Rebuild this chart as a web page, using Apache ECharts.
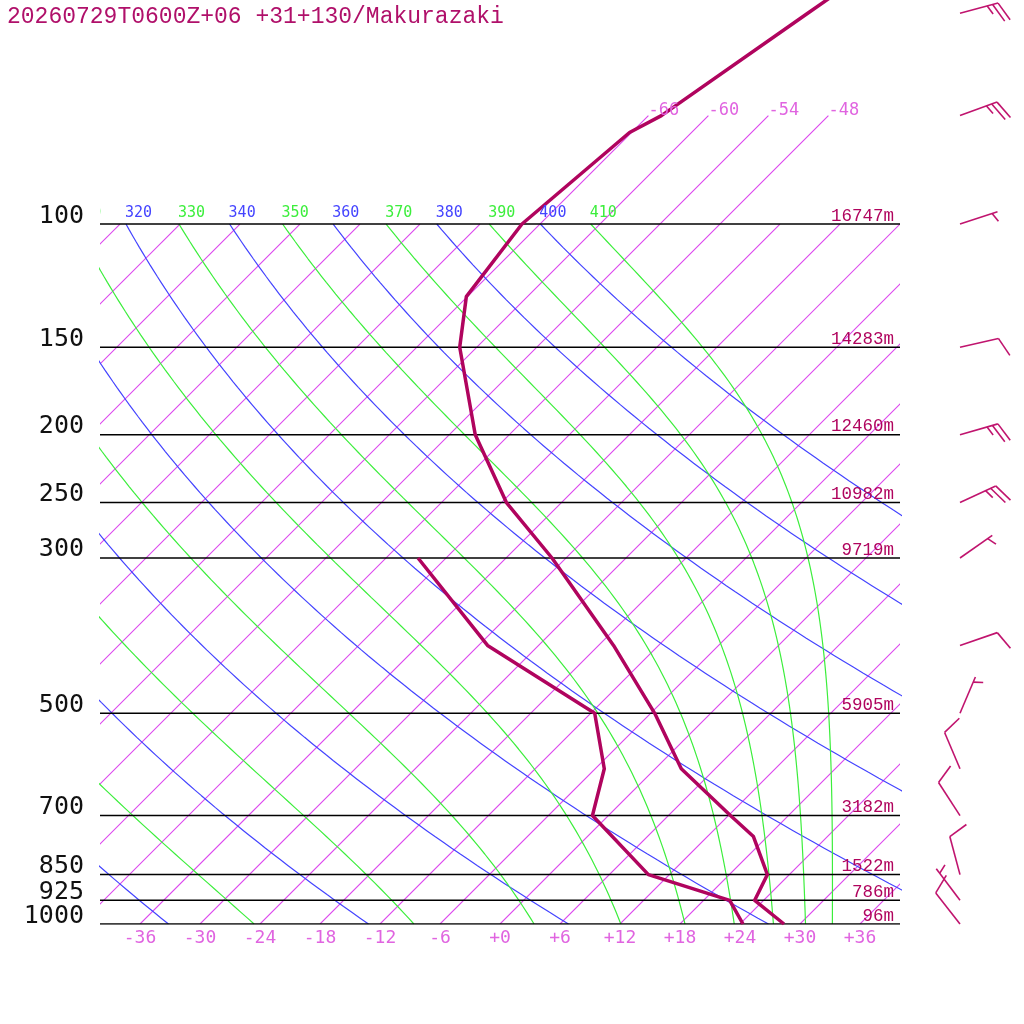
<!DOCTYPE html>
<html><head><meta charset="utf-8">
<script src="https://cdn.jsdelivr.net/npm/echarts@6/dist/echarts.min.js"></script>
<style>html,body{margin:0;padding:0;background:#fff}#c{width:1024px;height:1024px}</style>
</head><body><div id="c"></div>
<script>
// ---------------- data ----------------
const TITLE = '20260729T0600Z+06 +31+130/Makurazaki';
const levels   = [1000, 925, 850, 750, 700, 600, 500, 400, 300, 250, 200, 150, 127, 100, 74, 70, 50, 30];
const temp     = [28.4, 23.1, 21.8, 16.6, 12.2, 2.6, -5.6, -16.5, -31.4, -41.5, -51.4, -61.7, -66.1, -67.8, -66.2, -64.7, -60.3, -53.6];
const dewLevels = [1000, 925, 850, 700, 600, 500, 400, 300];
const dewpoint  = [24.3, 20.6, 9.9, -1.6, -5.1, -11.6, -29.1, -44.8];
const isobars  = [1000, 925, 850, 700, 500, 300, 250, 200, 150, 100];
const heights  = [96, 786, 1522, 3182, 5905, 9719, 10982, 12460, 14283, 16747];
const windLevels = [1000, 925, 850, 700, 600, 500, 400, 300, 250, 200, 150, 100, 70, 50];
const windDir    = [322, 323, 345, 327, 337, 23, 71, 55, 65, 74, 77, 72, 70, 75];
const windSpd    = [10, 5, 10, 10, 10, 5, 10, 5, 25, 25, 10, 5, 25, 25];
const tempTicks  = [-36, -30, -24, -18, -12, -6, 0, 6, 12, 18, 24, 30, 36];
const isotherms  = [-114, -108, -102, -96, -90, -84, -78, -72, -66, -60, -54, -48, -42, -36, -30, -24, -18, -12, -6, 0, 6, 12, 18, 24, 30, 36];
const labelledIsotherms = [-66, -60, -54, -48];
const dryThetas   = [240, 260, 280, 300, 320, 340, 360, 380, 400];
const moistThetaE = [250, 270, 290, 310, 330, 350, 370, 390, 410];

// ---------------- diagram geometry ----------------
const SKEW = 30.4;          // x shift (°C) per unit ln(1000/p): 45° skew
const P_TOP = 47.86, P_BOT = 1000;
const BARB_X = 46;          // column of wind barbs (skewed-x units)
const C_SND = '#b0045e', C_ISO = '#dc48ee', C_ISO_T = '#e064e0',
      C_DRY = '#4444ff', C_MOIST = '#3cee3c', C_BARB = '#c0146e';

function skewX(T, p) { return T + SKEW * Math.log(1000 / p); }
function pLevels() { const a = []; for (let i = 0; i <= 120; i++) a.push(1000 * Math.pow(10, -i / 120)); return a; }

function dryCurve(theta) {
  return pLevels().map(p => [skewX(theta * Math.pow(p / 1000, 0.2857) - 273.15, p), p]);
}
// saturated equivalent potential temperature (Bolton 1980)
function thetaE(Tk, p) {
  const Tc = Tk - 273.15, e = 6.112 * Math.exp(17.67 * Tc / (Tc + 243.5));
  const r = 1000 * 0.622 * e / (p - e);
  return Tk * Math.pow(1000 / p, 0.2854 * (1 - 0.28e-3 * r)) *
         Math.exp((3.376 / Tk - 0.00254) * r * (1 + 0.81e-3 * r));
}
function moistCurve(the) {
  return pLevels().map(p => {
    let lo = 150, hi = 330;
    for (let k = 0; k < 50; k++) { const m = (lo + hi) / 2; if (thetaE(m, p) > the) hi = m; else lo = m; }
    return [skewX((lo + hi) / 2 - 273.15, p), p];
  });
}

const series = [];
const thin = (color, data) => ({ type: 'line', symbol: 'none', silent: true, clip: true, color: color,
  lineStyle: { color: color, width: 1.2 }, z: 1, data: data });

// isotherms: straight segments drawn with a custom series
series.push({ type: 'custom', silent: true, clip: true, z: 1,
  data: isotherms.map(T => {
    const top = labelledIsotherms.includes(T) ? 70 : 100;
    return [skewX(T, 1000), 1000, skewX(T, top), top];
  }),
  renderItem: (params, api) => {
    const a = api.coord([api.value(0), api.value(1)]), b = api.coord([api.value(2), api.value(3)]);
    return { type: 'line', shape: { x1: a[0], y1: a[1], x2: b[0], y2: b[1] },
      style: { stroke: C_ISO, lineWidth: 1.1, fill: null } };
  } });
dryThetas.forEach(th => series.push(thin(C_DRY, dryCurve(th))));
moistThetaE.forEach(th => series.push(thin(C_MOIST, moistCurve(th))));
isobars.forEach(p => series.push({ type: 'line', symbol: 'none', silent: true, z: 2, color: '#000',
  lineStyle: { color: '#000', width: 1.5 }, data: [[-40, p], [40, p]] }));

series.push({ type: 'line', symbol: 'none', silent: true, z: 5, clip: true, color: C_SND,
  lineStyle: { color: C_SND, width: 3.5, join: 'round' },
  data: levels.map((p, i) => [skewX(temp[i], p), p]) });
series.push({ type: 'line', symbol: 'none', silent: true, z: 5, clip: true, color: C_SND,
  lineStyle: { color: C_SND, width: 3.5, join: 'round' },
  data: dewLevels.map((p, i) => [skewX(dewpoint[i], p), p]) });

// text helper series
function textSeries(data, fn, clip) {
  return { type: 'custom', silent: true, clip: clip, z: 6, data: data,
    renderItem: (params, api) => {
      const pt = api.coord([api.value(0), api.value(1)]);
      const o = fn(params.dataIndex);
      return { type: 'text', x: pt[0] + (o.dx || 0), y: pt[1] + (o.dy || 0),
        style: { text: o.text, fill: o.color, font: o.font, align: o.align, verticalAlign: 'middle' } };
    } };
}
const MONO = '"DejaVu Sans Mono", monospace';
const LMONO = '"Liberation Mono", monospace';

// pressure labels (left)
series.push(textSeries(isobars.map(p => [-40, p]), i => ({ text: String(isobars[i]), color: '#111',
  font: '25px ' + MONO, align: 'right', dx: -16, dy: -8 }), false));
// height labels (right)
series.push(textSeries(isobars.map(p => [40, p]), i => ({ text: heights[i] + 'm', color: C_SND,
  font: '17.5px ' + LMONO, align: 'right', dx: -6, dy: -8 }), true));
// isotherm labels (top)
series.push(textSeries(labelledIsotherms.map(T => [skewX(T, 70), 70]), i => ({ text: String(labelledIsotherms[i]),
  color: C_ISO_T, font: '17px ' + MONO, align: 'left', dx: 0, dy: -5 }), true));
// adiabat labels at 100 hPa
const thetaLabels = [];
dryThetas.forEach(th => { const c = dryCurve(th); thetaLabels.push({ pos: c[c.length - 1], text: String(th), color: C_DRY }); });
moistThetaE.forEach(th => { const c = moistCurve(th); thetaLabels.push({ pos: c[c.length - 1], text: String(th), color: C_MOIST }); });
series.push(textSeries(thetaLabels.map(o => o.pos), i => ({ text: thetaLabels[i].text, color: thetaLabels[i].color,
  font: '15px ' + MONO, align: 'left', dx: -1, dy: -11 }), true));

// wind barbs
series.push({ type: 'custom', silent: true, clip: false, z: 6,
  data: windLevels.map((p, i) => [BARB_X, p, windDir[i], windSpd[i]]),
  renderItem: (params, api) => {
    const b = api.coord([api.value(0), api.value(1)]);
    const d = api.value(2) * Math.PI / 180, spd = api.value(3);
    const L = 39.4, SP = 5.6, FULL = 20.5, HALF = 10, A = 69 * Math.PI / 180;
    const ux = Math.sin(d), uy = -Math.cos(d);
    const bx = ux * Math.cos(A) - uy * Math.sin(A), by = ux * Math.sin(A) + uy * Math.cos(A);
    const st = { stroke: C_BARB, lineWidth: 1.6 };
    const ch = [{ type: 'line', shape: { x1: b[0], y1: b[1], x2: b[0] + ux * L, y2: b[1] + uy * L }, style: st }];
    const nFull = Math.floor(spd / 10), half = (spd % 10) >= 5;
    let k = 0;
    for (let j = 0; j < nFull; j++, k++) {
      const sx = b[0] + ux * (L - k * SP), sy = b[1] + uy * (L - k * SP);
      ch.push({ type: 'line', shape: { x1: sx, y1: sy, x2: sx + bx * FULL, y2: sy + by * FULL }, style: st });
    }
    if (half) {
      if (k === 0) k = 1;
      const sx = b[0] + ux * (L - k * SP), sy = b[1] + uy * (L - k * SP);
      ch.push({ type: 'line', shape: { x1: sx, y1: sy, x2: sx + bx * HALF, y2: sy + by * HALF }, style: st });
    }
    return { type: 'group', children: ch };
  } });

const chart = echarts.init(document.getElementById('c'), null, { renderer: 'canvas' });
chart.setOption({
  animation: false,
  backgroundColor: '#fff',
  grid: { left: 100, right: 124, top: 0, bottom: 100, containLabel: false },
  xAxis: { type: 'value', min: -40, max: 40,
    axisLine: { show: false }, axisTick: { show: false }, splitLine: { show: false },
    axisLabel: { customValues: tempTicks, margin: 5, color: C_ISO_T, fontSize: 18, fontFamily: 'DejaVu Sans Mono',
      formatter: v => (v >= 0 ? '+' + v : String(v)) } },
  yAxis: { type: 'log', logBase: 10, inverse: true, min: P_TOP, max: P_BOT,
    axisLine: { show: false }, axisTick: { show: false }, splitLine: { show: false }, axisLabel: { show: false } },
  graphic: [{ type: 'text', x: 7, y: 17, z: 10,
    style: { text: TITLE, fill: '#b0106a', font: '23px "Liberation Mono", monospace', verticalAlign: 'middle' } }],
  series: series
});
</script></body></html>
